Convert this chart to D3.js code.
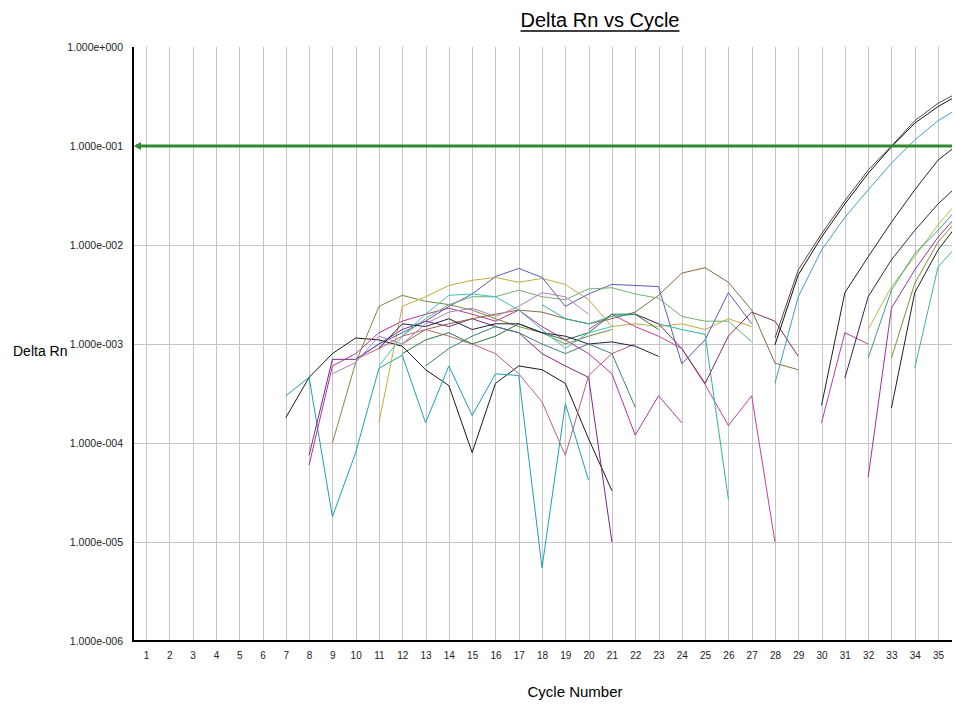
<!DOCTYPE html>
<html>
<head>
<meta charset="utf-8">
<script src="https://cdn.jsdelivr.net/npm/d3@7"></script>
<style>
  html, body { margin: 0; padding: 0; background: #fff; }
  svg { display: block; }
  text { font-family: "Liberation Sans", Arial, sans-serif; }
</style>
</head>
<body>
<svg id="chart" width="955" height="704"></svg>
<script>
// ---------------- DATA ----------------
const cycles = d3.range(1, 36);                       // x tick labels 1..35
const yTickValues = [1, 1e-1, 1e-2, 1e-3, 1e-4, 1e-5, 1e-6];
const threshold = 0.1;

// noisy baseline wells: start cycle + Delta Rn values
const w01Start = 7,  w01 = [1.8e-4, 4.6e-4, 8.0e-4, 1.15e-3, 1.1e-3, 9.5e-4, 5.5e-4, 3.8e-4, 8.0e-5, 4.0e-4, 6.0e-4, 5.5e-4, 4.0e-4, 1.1e-4, 3.3e-5];
const w02Start = 7,  w02 = [3.0e-4, 4.6e-4, 1.8e-5, 8.0e-5, 5.7e-4, 7.7e-4, 1.6e-4, 6.0e-4, 1.9e-4, 5.0e-4, 4.8e-4, 5.5e-6, 2.5e-4, 4.2e-5];
const w03Start = 8,  w03 = [6.0e-5, 6.0e-4, 8.0e-4, 1.3e-3, 1.7e-3, 2.0e-3, 2.3e-3, 2.0e-3, 1.7e-3, 2.2e-3, 1.5e-3, 1.1e-3, 8.0e-4, 5.0e-4, 1.2e-4, 3.0e-4, 1.6e-4];
const w04Start = 8,  w04 = [7.5e-5, 7.0e-4, 7.0e-4, 1.0e-3, 1.4e-3, 1.7e-3, 1.5e-3, 1.8e-3, 1.5e-3, 1.3e-3, 8.0e-4, 6.0e-4, 4.6e-4, 1.0e-5];
const w05Start = 10, w05 = [7.0e-4, 9.0e-4, 1.2e-3, 1.4e-3, 1.2e-3, 1.0e-3, 8.0e-4, 5.0e-4, 2.6e-4, 7.5e-5, 4.8e-4, 8.0e-4, 1.0e-3];
const w06Start = 9,  w06 = [1.0e-4, 6.5e-4, 2.4e-3, 3.1e-3, 2.7e-3, 2.5e-3, 2.2e-3, 1.8e-3, 1.5e-3, 1.3e-3, 1.0e-3, 1.2e-3, 1.4e-3];
const w07Start = 11, w07 = [1.6e-4, 2.4e-3, 3.0e-3, 3.9e-3, 4.4e-3, 4.7e-3, 4.2e-3, 4.6e-3, 4.0e-3, 2.8e-3, 1.5e-3, 1.6e-3, 1.5e-3, 1.6e-3, 1.4e-3, 1.8e-3, 1.5e-3];
const w08Start = 10, w08 = [7.0e-4, 1.0e-3, 1.3e-3, 1.7e-3, 2.4e-3, 3.2e-3, 4.8e-3, 5.8e-3, 4.7e-3, 2.4e-3, 3.2e-3, 4.0e-3, 3.9e-3, 3.8e-3, 6.3e-4, 1.1e-3, 3.3e-3, 1.6e-3];
const w09Start = 12, w09 = [1.0e-3, 1.4e-3, 1.6e-3, 1.8e-3, 2.0e-3, 2.2e-3, 2.1e-3, 1.8e-3, 1.6e-3, 1.8e-3, 2.1e-3, 3.1e-3, 5.2e-3, 5.9e-3, 4.2e-3, 2.2e-3, 6.4e-4, 5.5e-4];
const w10Start = 20, w10 = [1.4e-3, 2.0e-3, 1.5e-3, 1.2e-3, 9.0e-4, 3.9e-4, 1.5e-4, 3.0e-4, 1.0e-5];
const w11Start = 18, w11 = [2.5e-3, 1.8e-3, 1.6e-3, 1.9e-3, 2.0e-3, 1.6e-3, 1.4e-3, 1.25e-3, 2.7e-5];
const w12Start = 12, w12 = [1.2e-3, 1.8e-3, 2.5e-3, 3.0e-3, 3.0e-3, 3.5e-3, 3.0e-3, 2.8e-3, 3.6e-3, 3.7e-3, 3.2e-3, 2.9e-3, 1.9e-3, 1.7e-3, 1.7e-3, 1.05e-3];
const w13Start = 22, w13 = [2.0e-3, 1.6e-3, 9.0e-4, 4.0e-4, 1.2e-3, 2.1e-3, 1.7e-3, 7.5e-4];
const w14Start = 12, w14 = [8.0e-4, 1.1e-3, 1.3e-3, 1.0e-3, 1.2e-3, 1.6e-3, 1.3e-3, 1.1e-3, 1.3e-3, 2.0e-3, 2.0e-3, 1.4e-3];
const w15Start = 11, w15 = [9.0e-4, 1.6e-3, 1.5e-3, 1.8e-3, 1.4e-3, 1.6e-3, 1.6e-3, 1.3e-3, 1.2e-3, 1.0e-3, 1.05e-3, 9.5e-4, 7.5e-4];
const w16Start = 13, w16 = [6.0e-4, 9.0e-4, 1.2e-3, 1.5e-3, 1.3e-3, 1.0e-3, 8.0e-4, 1.0e-3, 8.0e-4, 2.3e-4];
const w17Start = 11, w17 = [6.0e-4, 1.2e-3, 2.0e-3, 3.1e-3, 3.2e-3, 3.0e-3, 2.2e-3, 1.4e-3, 9.0e-4, 1.3e-3, 1.5e-3];
const w18Start = 9,  w18 = [5.0e-4, 6.5e-4, 1.2e-3, 1.0e-3, 1.6e-3, 2.1e-3, 2.3e-3, 1.9e-3, 2.4e-3, 3.3e-3, 3.0e-3, 2.0e-3];

// amplifying wells
const a01Start = 28, a01 = [9.8e-4, 5.0e-3, 1.2e-2, 2.6e-2, 5.3e-2, 9.8e-2, 0.17, 0.25, 0.34];
const a02Start = 28, a02 = [1.15e-3, 5.6e-3, 1.3e-2, 2.8e-2, 5.7e-2, 0.10, 0.18, 0.27, 0.36];
const a03Start = 28, a03 = [4.0e-4, 3.0e-3, 8.9e-3, 1.9e-2, 3.6e-2, 6.7e-2, 0.115, 0.18, 0.25];
const a04Start = 30, a04 = [2.4e-4, 3.3e-3, 7.6e-3, 1.7e-2, 3.6e-2, 7.2e-2, 0.11];
const a05Start = 30, a05 = [1.6e-4, 1.3e-3, 1.0e-3];
const a06Start = 31, a06 = [4.5e-4, 3.0e-3, 7.1e-3, 1.4e-2, 2.6e-2, 4.3e-2];
const a07Start = 32, a07 = [1.4e-3, 3.8e-3, 7.6e-3, 1.6e-2, 3.0e-2];
const a08Start = 32, a08 = [7.2e-4, 3.5e-3, 8.2e-3, 1.4e-2, 2.6e-2];
const a09Start = 32, a09 = [4.5e-5, 2.3e-3, 5.6e-3, 1.2e-2, 2.2e-2];
const a10Start = 33, a10 = [7.2e-4, 4.1e-3, 1.07e-2, 2.0e-2];
const a11Start = 33, a11 = [2.25e-4, 3.3e-3, 8.9e-3, 1.8e-2];
const a12Start = 34, a12 = [5.7e-4, 6.0e-3, 1.1e-2];

// ---------------- STYLE ----------------
const palette = {
  w01: "#1a1a1a", w02: "#1f9fb3", w03: "#b0359a", w04: "#7a2a8a", w05: "#c0607a",
  w06: "#7a8a40", w07: "#c8a840", w08: "#5a5ab8", w09: "#8a6a40", w10: "#c040a0",
  w11: "#30b0a0", w12: "#70b070", w13: "#803060", w14: "#2a7a3a", w15: "#202040",
  w16: "#408080", w17: "#40c0c0", w18: "#b080c0",
  a01: "#111111", a02: "#5a4a3a", a03: "#3f9fc0", a04: "#222222", a05: "#b040a0",
  a06: "#402050", a07: "#b0c040", a08: "#40a080", a09: "#a030a0", a10: "#809030",
  a11: "#222222", a12: "#40b0b0"
};

const wells = [
  ["w01", w01Start, w01], ["w02", w02Start, w02], ["w03", w03Start, w03], ["w04", w04Start, w04],
  ["w05", w05Start, w05], ["w06", w06Start, w06], ["w07", w07Start, w07], ["w08", w08Start, w08],
  ["w09", w09Start, w09], ["w10", w10Start, w10], ["w11", w11Start, w11], ["w12", w12Start, w12],
  ["w13", w13Start, w13], ["w14", w14Start, w14], ["w15", w15Start, w15], ["w16", w16Start, w16],
  ["w17", w17Start, w17], ["w18", w18Start, w18],
  ["a01", a01Start, a01], ["a02", a02Start, a02], ["a03", a03Start, a03], ["a04", a04Start, a04],
  ["a05", a05Start, a05], ["a06", a06Start, a06], ["a07", a07Start, a07], ["a08", a08Start, a08],
  ["a09", a09Start, a09], ["a10", a10Start, a10], ["a11", a11Start, a11], ["a12", a12Start, a12]
].map(([id, start, vals]) => ({ id, points: vals.map((v, i) => ({ c: start + i, v })) }));

// ---------------- LAYOUT ----------------
const plotL = 133, plotR = 952, plotT = 47, plotB = 641;
const svg = d3.select("#chart");

const x = d3.scaleLinear().domain([0.44, 35.6]).range([plotL, plotR]);
const y = d3.scaleLog().domain([1e-6, 1]).range([plotB, plotT]);

const fmt = v => {
  const e = Math.round(Math.log10(v));
  return "1.000e" + (e < 0 ? "-" : "+") + String(Math.abs(e)).padStart(3, "0");
};

// grid
const grid = svg.append("g").attr("stroke", "#c4c4c4").attr("stroke-width", 1);
grid.selectAll(".vg").data(cycles).join("line")
  .attr("x1", d => Math.round(x(d)) + 0.5).attr("x2", d => Math.round(x(d)) + 0.5)
  .attr("y1", plotT).attr("y2", plotB);
grid.selectAll(".hg").data(yTickValues.filter(v => v < 1 && v > 1e-6)).join("line")
  .attr("x1", plotL).attr("x2", plotR)
  .attr("y1", d => Math.round(y(d)) + 0.5).attr("y2", d => Math.round(y(d)) + 0.5);

// clip
svg.append("defs").append("clipPath").attr("id", "plotclip")
  .append("rect").attr("x", plotL).attr("y", plotT).attr("width", plotR - plotL).attr("height", plotB - plotT);

// data lines
const line = d3.line().x(d => x(d.c)).y(d => y(d.v));
svg.append("g").attr("clip-path", "url(#plotclip)")
  .selectAll("path").data(wells).join("path")
  .attr("d", d => line(d.points))
  .attr("fill", "none")
  .attr("stroke", d => palette[d.id])
  .attr("stroke-width", 1);

// threshold
const ty = y(threshold);
svg.append("line").attr("x1", plotL + 3).attr("x2", plotR).attr("y1", ty).attr("y2", ty)
  .attr("stroke", "#2e8b2e").attr("stroke-width", 3);
svg.append("path")
  .attr("d", `M${plotL + 1},${ty} L${plotL + 8},${ty - 4} L${plotL + 8},${ty + 4} Z`)
  .attr("fill", "#2e8b2e");

// axes
const yAxis = d3.axisLeft(y).tickValues(yTickValues).tickFormat(fmt).tickSize(0).tickPadding(10);
const gy = svg.append("g").attr("transform", `translate(${plotL},0)`).call(yAxis);
gy.select(".domain").remove();
gy.selectAll("text").attr("font-size", "10.5px").attr("fill", "#222")
  .attr("font-family", "'Liberation Sans', Arial, sans-serif");

const xAxis = d3.axisBottom(x).tickValues(cycles).tickFormat(d3.format("d")).tickSize(0).tickPadding(11);
const gx = svg.append("g").attr("transform", `translate(0,${plotB})`).call(xAxis);
gx.select(".domain").remove();
gx.selectAll("text").attr("font-size", "10px").attr("fill", "#222")
  .attr("font-family", "'Liberation Sans', Arial, sans-serif");

// axis lines
svg.append("line").attr("x1", plotL).attr("x2", plotL).attr("y1", plotT).attr("y2", plotB + 1)
  .attr("stroke", "#000").attr("stroke-width", 2);
svg.append("line").attr("x1", plotL).attr("x2", plotR).attr("y1", plotB).attr("y2", plotB)
  .attr("stroke", "#000").attr("stroke-width", 2);

// titles
const title = svg.append("text").attr("x", 600).attr("y", 27).attr("text-anchor", "middle")
  .attr("font-size", "20px").attr("fill", "#000").text("Delta Rn vs Cycle");
const bb = title.node().getBBox();
svg.append("line").attr("x1", bb.x).attr("x2", bb.x + bb.width).attr("y1", 31).attr("y2", 31)
  .attr("stroke", "#000").attr("stroke-width", 1.5);

svg.append("text").attr("x", 13).attr("y", 356).attr("font-size", "14px").attr("fill", "#000")
  .text("Delta Rn");
svg.append("text").attr("x", 575).attr("y", 697).attr("text-anchor", "middle")
  .attr("font-size", "15px").attr("fill", "#000").text("Cycle Number");
</script>
</body>
</html>
